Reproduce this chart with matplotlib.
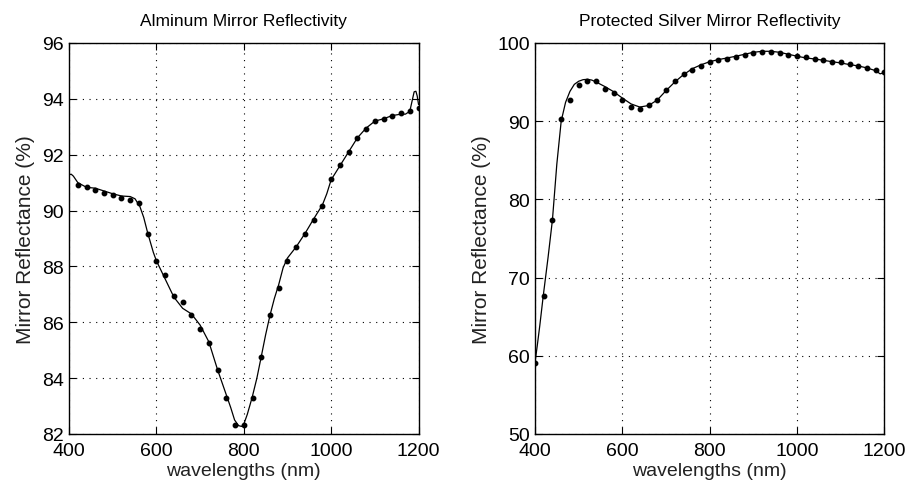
import matplotlib.pyplot as plt

plt.rcParams['font.family'] = ['Liberation Sans', 'DejaVu Sans']

# measured points (every 20 nm)
al_wl = [420, 440, 460, 480, 500, 520, 540, 560, 580, 600, 620, 640, 660, 680,
         700, 720, 740, 760, 780, 800, 820, 840, 860, 880, 900, 920, 940, 960,
         980, 1000, 1020, 1040, 1060, 1080, 1100, 1120, 1140, 1160, 1180, 1200]
al_refl = [90.93, 90.83, 90.75, 90.64, 90.55, 90.45, 90.36, 90.27, 89.17, 88.18,
           87.70, 86.93, 86.73, 86.25, 85.75, 85.27, 84.28, 83.30, 82.31, 82.31,
           83.30, 84.77, 86.25, 87.22, 88.19, 88.68, 89.17, 89.66, 90.15, 91.13,
           91.63, 92.11, 92.60, 92.91, 93.20, 93.29, 93.40, 93.50, 93.58, 93.68]

ag_wl = [400, 420, 440, 460, 480, 500, 520, 540, 560, 580, 600, 620, 640, 660,
         680, 700, 720, 740, 760, 780, 800, 820, 840, 860, 880, 900, 920, 940,
         960, 980, 1000, 1020, 1040, 1060, 1080, 1100, 1120, 1140, 1160, 1180, 1200]
ag_refl = [59.08, 67.69, 77.37, 90.32, 92.71, 94.59, 95.10, 95.10, 94.12, 93.65,
           92.71, 91.77, 91.56, 92.03, 92.71, 93.95, 95.10, 96.04, 96.55, 97.02,
           97.53, 97.78, 97.99, 98.25, 98.50, 98.68, 98.81, 98.81, 98.76, 98.50,
           98.38, 98.17, 97.99, 97.78, 97.53, 97.53, 97.27, 97.02, 96.76, 96.50, 96.25]

# fitted curves
al_fit_wl = [400, 405, 410, 420, 440, 460, 480, 500, 520, 540, 551, 562, 571, 580,
             593, 600, 620, 640, 660, 680, 700, 720, 740, 760, 770, 779, 788, 795,
             800, 808, 819, 830, 840, 850, 860, 870, 880, 890, 900, 920, 941, 960,
             980, 990, 1000, 1020, 1040, 1060, 1080, 1100, 1119, 1140, 1160, 1170,
             1180, 1185, 1190, 1194, 1197, 1200]
al_fit = [91.28, 91.30, 91.23, 91.00, 90.83, 90.80, 90.70, 90.60, 90.52, 90.50,
          90.42, 90.15, 89.75, 89.20, 88.50, 88.20, 87.55, 86.90, 86.50, 86.30,
          85.90, 85.30, 84.30, 83.40, 82.95, 82.50, 82.30, 82.27, 82.35, 82.70,
          83.30, 84.00, 84.77, 85.55, 86.25, 86.85, 87.35, 87.95, 88.30, 88.70,
          89.20, 89.70, 90.20, 90.60, 91.10, 91.60, 92.10, 92.60, 92.95, 93.20,
          93.28, 93.40, 93.45, 93.45, 93.55, 93.90, 94.25, 94.27, 94.10, 93.80]

ag_fit_wl = [400, 405, 411, 419, 430, 440, 450, 460, 470, 480, 490, 500, 510, 520,
             530, 540, 559, 579, 600, 620, 640, 660, 680, 700, 720, 739, 760, 780,
             800, 820, 840, 860, 880, 900, 920, 940, 960, 980, 1000, 1020, 1040,
             1060, 1080, 1100, 1120, 1140, 1160, 1180, 1190, 1200]
ag_fit = [59.10, 61.20, 63.85, 67.70, 72.60, 77.40, 84.50, 90.00, 92.40, 93.80,
          94.70, 95.10, 95.30, 95.35, 95.25, 95.00, 94.45, 93.80, 92.95, 92.20,
          91.80, 92.00, 92.70, 93.90, 95.00, 95.90, 96.70, 97.20, 97.60, 97.87,
          98.08, 98.30, 98.55, 98.80, 98.93, 98.93, 98.80, 98.55, 98.30, 98.08,
          97.95, 97.78, 97.60, 97.44, 97.23, 97.06, 96.80, 96.45, 96.05, 96.20]

fig = plt.figure(figsize=(9.12, 5.02), dpi=100)
ax1 = fig.add_axes([0.0757, 0.1335, 0.3832, 0.779])
ax2 = fig.add_axes([0.5866, 0.1335, 0.3832, 0.779])

panels = [
    (ax1, al_fit_wl, al_fit, al_wl, al_refl, 'Alminum Mirror Reflectivity', (82, 96), range(82, 97, 2)),
    (ax2, ag_fit_wl, ag_fit, ag_wl, ag_refl, 'Protected Silver Mirror Reflectivity', (50, 100), range(50, 101, 10)),
]

for ax, fx, fy, px, py, title, ylim, yticks in panels:
    ax.plot(fx, fy, color='black', lw=0.9)
    ax.plot(px, py, 'o', color='black', ms=3.2)
    ax.set_xlim(400, 1200)
    ax.set_ylim(*ylim)
    ax.set_xticks([400, 600, 800, 1000, 1200])
    ax.set_yticks(list(yticks))
    ax.grid(True, linestyle=(0, (1, 5)), color='black', lw=0.8)
    ax.tick_params(direction='in', top=True, right=True, labelsize=14, length=5)
    ax.tick_params(axis='x', pad=6)
    for s in ax.spines.values():
        s.set_linewidth(1.0)
    ax.set_title(title, fontsize=12.5, pad=13)
    ax.set_xlabel('wavelengths (nm)', fontsize=14, labelpad=2, color='#222222')
    ax.set_ylabel('Mirror Reflectance (%)', fontsize=15, labelpad=5, color='#222222')

fig.savefig('out.png', dpi=100)
